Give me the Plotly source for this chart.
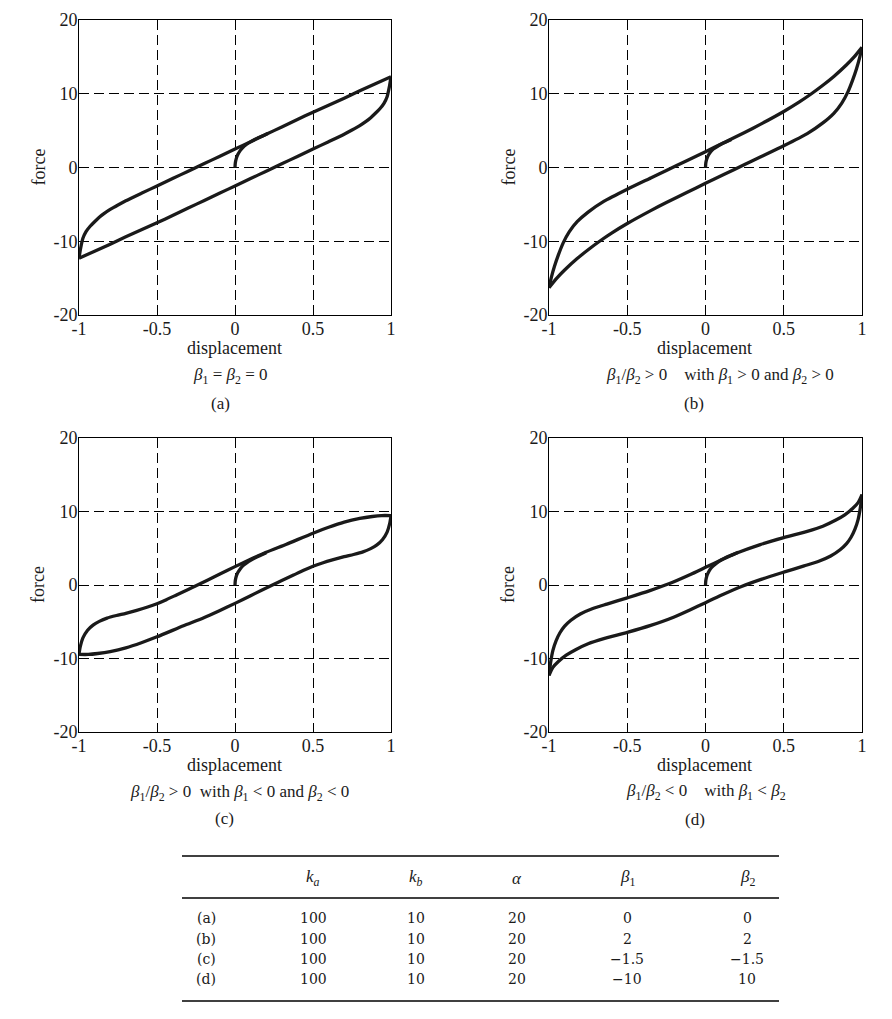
import plotly.graph_objects as go

# ---------------- data ----------------
# panel (a): beta1 = beta2 = 0
a_up_x = [-1.0, -0.99, -0.975, -0.955, -0.93, -0.9, -0.87, -0.84, -0.8, -0.75, -0.7, -0.6, -0.5, -0.4, -0.3, -0.2, -0.1, 0.0, 0.1, 0.2, 0.3, 0.4, 0.5, 0.6, 0.7, 0.8, 0.9, 1.0]
a_up_y = [-12.3, -11.0, -9.6, -8.7, -8.0, -7.35, -6.75, -6.25, -5.68, -5.08, -4.52, -3.5, -2.5, -1.5, -0.5, 0.5, 1.5, 2.5, 3.5, 4.5, 5.5, 6.5, 7.5, 8.45, 9.4, 10.4, 11.35, 12.3]
a_dn_x = [1.0, 0.99, 0.975, 0.955, 0.93, 0.9, 0.87, 0.84, 0.8, 0.75, 0.7, 0.6, 0.5, 0.4, 0.3, 0.2, 0.1, 0.0, -0.1, -0.2, -0.3, -0.4, -0.5, -0.6, -0.7, -0.8, -0.9, -1.0]
a_dn_y = [12.3, 11.0, 9.6, 8.7, 8.0, 7.35, 6.75, 6.25, 5.68, 5.08, 4.52, 3.5, 2.5, 1.5, 0.5, -0.5, -1.5, -2.5, -3.5, -4.5, -5.5, -6.5, -7.5, -8.45, -9.4, -10.4, -11.35, -12.3]
a_init_x = [0.0, 0.002, 0.008, 0.018, 0.032, 0.05, 0.075, 0.105, 0.14, 0.18, 0.21]
a_init_y = [0.0, 0.6, 1.2, 1.75, 2.25, 2.7, 3.15, 3.55, 3.95, 4.3, 4.6]

# panel (b): beta1 = beta2 = 2
b_up_x = [-1.0, -0.985, -0.965, -0.94, -0.91, -0.87, -0.82, -0.75, -0.65, -0.5, -0.35, -0.25, -0.12, 0.0, 0.12, 0.25, 0.35, 0.5, 0.6, 0.67, 0.75, 0.82, 0.9, 0.95, 1.0]
b_up_y = [-16.3, -14.9, -13.4, -11.85, -10.25, -8.7, -7.35, -6.05, -4.6, -2.95, -1.42, -0.4, 0.93, 2.15, 3.38, 4.75, 5.85, 7.6, 8.9, 9.9, 11.15, 12.35, 13.9, 15.0, 16.3]
b_dn_x = [1.0, 0.985, 0.965, 0.94, 0.91, 0.87, 0.82, 0.75, 0.65, 0.5, 0.35, 0.25, 0.12, 0.0, -0.12, -0.25, -0.35, -0.5, -0.6, -0.67, -0.75, -0.82, -0.9, -0.95, -1.0]
b_dn_y = [16.3, 14.9, 13.4, 11.85, 10.25, 8.7, 7.35, 6.05, 4.6, 2.95, 1.42, 0.4, -0.93, -2.15, -3.38, -4.75, -5.85, -7.6, -8.9, -9.9, -11.15, -12.35, -13.9, -15.0, -16.3]
b_init_x = [0.0, 0.002, 0.008, 0.018, 0.032, 0.05, 0.075, 0.1, 0.13, 0.165]
b_init_y = [0.0, 0.6, 1.15, 1.65, 2.1, 2.5, 2.85, 3.15, 3.45, 3.8]

# panel (c): beta1 = beta2 = -1.5
c_up_x = [-1.0, -0.992, -0.975, -0.945, -0.91, -0.87, -0.82, -0.76, -0.7, -0.63, -0.56, -0.5, -0.44, -0.375, -0.3, -0.25, -0.1, 0.0, 0.1, 0.2, 0.33, 0.5, 0.6, 0.7, 0.8, 0.88, 0.94, 1.0]
c_up_y = [-9.4, -8.4, -7.2, -6.15, -5.45, -4.95, -4.5, -4.15, -3.85, -3.45, -3.0, -2.55, -2.0, -1.35, -0.6, -0.1, 1.45, 2.5, 3.5, 4.45, 5.55, 7.05, 7.85, 8.55, 9.05, 9.32, 9.45, 9.45]
c_dn_x = [1.0, 0.992, 0.975, 0.945, 0.91, 0.87, 0.82, 0.76, 0.7, 0.63, 0.56, 0.5, 0.44, 0.375, 0.3, 0.25, 0.1, 0.0, -0.1, -0.2, -0.33, -0.5, -0.6, -0.7, -0.8, -0.88, -0.94, -1.0]
c_dn_y = [9.4, 8.4, 7.2, 6.15, 5.45, 4.95, 4.5, 4.15, 3.85, 3.45, 3.0, 2.55, 2.0, 1.35, 0.6, 0.1, -1.45, -2.5, -3.5, -4.45, -5.55, -7.05, -7.85, -8.55, -9.05, -9.32, -9.45, -9.45]
c_init_x = [0.0, 0.002, 0.008, 0.018, 0.032, 0.05, 0.075, 0.1, 0.13, 0.165, 0.2]
c_init_y = [0.0, 0.6, 1.2, 1.7, 2.15, 2.6, 3.0, 3.35, 3.7, 4.05, 4.4]

# panel (d): beta1 = -10, beta2 = 10
d_up_x = [-1.0, -0.99, -0.975, -0.955, -0.93, -0.9, -0.86, -0.8, -0.72, -0.63, -0.5, -0.36, -0.23, -0.1, 0.0, 0.1, 0.2, 0.35, 0.5, 0.65, 0.75, 0.83, 0.89, 0.94, 0.975, 1.0]
d_up_y = [-12.3, -10.6, -8.9, -7.6, -6.5, -5.6, -4.8, -3.95, -3.2, -2.6, -1.75, -0.8, 0.2, 1.4, 2.4, 3.4, 4.35, 5.5, 6.45, 7.3, 8.0, 8.8, 9.55, 10.4, 11.2, 12.3]
d_dn_x = [1.0, 0.99, 0.975, 0.955, 0.93, 0.9, 0.86, 0.8, 0.72, 0.63, 0.5, 0.36, 0.23, 0.1, 0.0, -0.1, -0.2, -0.35, -0.5, -0.65, -0.75, -0.83, -0.89, -0.94, -0.975, -1.0]
d_dn_y = [12.3, 10.6, 8.9, 7.6, 6.5, 5.6, 4.8, 3.95, 3.2, 2.6, 1.75, 0.8, -0.2, -1.4, -2.4, -3.4, -4.35, -5.5, -6.45, -7.3, -8.0, -8.8, -9.55, -10.4, -11.2, -12.3]
d_init_x = [0.0, 0.002, 0.008, 0.018, 0.032, 0.05, 0.075, 0.1, 0.13, 0.17, 0.21]
d_init_y = [0.0, 0.6, 1.2, 1.7, 2.2, 2.6, 3.05, 3.4, 3.75, 4.1, 4.45]

x_tickvals = [-1, -0.5, 0, 0.5, 1]
x_ticktext = ["-1", "-0.5", "0", "0.5", "1"]
y_tickvals = [-20, -10, 0, 10, 20]
y_ticktext = ["-20", "-10", "0", "10", "20"]

SP = "\u2002\u2002"
captions = [
    "<i>β</i><sub>1</sub> = <i>β</i><sub>2</sub> = 0",
    "<i>β</i><sub>1</sub>/<i>β</i><sub>2</sub> > 0" + SP + "with <i>β</i><sub>1</sub> > 0 and <i>β</i><sub>2</sub> > 0",
    "<i>β</i><sub>1</sub>/<i>β</i><sub>2</sub> > 0\u2002with <i>β</i><sub>1</sub> < 0 and <i>β</i><sub>2</sub> < 0",
    "<i>β</i><sub>1</sub>/<i>β</i><sub>2</sub> < 0" + SP + "with <i>β</i><sub>1</sub> < <i>β</i><sub>2</sub>",
]
panel_labels = ["(a)", "(b)", "(c)", "(d)"]

table_header = ["<i>k</i><sub><i>a</i></sub>", "<i>k</i><sub><i>b</i></sub>", "<i>α</i>",
                "<i>β</i><sub>1</sub>", "<i>β</i><sub>2</sub>"]
table_rows = ["(a)", "(b)", "(c)", "(d)"]
col_ka = ["100", "100", "100", "100"]
col_kb = ["10", "10", "10", "10"]
col_alpha = ["20", "20", "20", "20"]
col_beta1 = ["0", "2", "\u22121.5", "\u221210"]
col_beta2 = ["0", "2", "\u22121.5", "10"]

# ---------------- layout helpers ----------------
PAGE_OFF = 8          # the page body margin offsets the figure
W, H = 892 - 2 * PAGE_OFF, 1019 - 2 * PAGE_OFF
FONT = "Liberation Serif"
TFONT = "DejaVu Serif"
INK = "#1a1a1a"


def px(x):
    return (x - PAGE_OFF) / W


def py(y):
    return 1 - (y - PAGE_OFF) / H


panels = [
    dict(x0=79, x1=391, y0=20, y1=315),
    dict(x0=549, x1=862, y0=20, y1=315),
    dict(x0=79, x1=391, y0=438, y1=732),
    dict(x0=549, x1=862, y0=438, y1=732),
]
series = [
    (a_up_x, a_up_y, a_dn_x, a_dn_y, a_init_x, a_init_y),
    (b_up_x, b_up_y, b_dn_x, b_dn_y, b_init_x, b_init_y),
    (c_up_x, c_up_y, c_dn_x, c_dn_y, c_init_x, c_init_y),
    (d_up_x, d_up_y, d_dn_x, d_dn_y, d_init_x, d_init_y),
]
caption_pos = [(230, 376, 220, 403), (720, 376, 694, 403), (239, 793, 224, 818), (706, 792, 695, 819)]

fig = go.Figure()
layout = dict(
    width=W, height=H, margin=dict(l=0, r=0, t=0, b=0, pad=0, autoexpand=False),
    paper_bgcolor="white", plot_bgcolor="white", showlegend=False,
    font=dict(family=FONT, color=INK, size=16),
)
annotations = []
shapes = []

for i, (p, s) in enumerate(zip(panels, series)):
    n = "" if i == 0 else str(i + 1)
    xa, ya = "x" + n, "y" + n
    ux, uy, dx, dy, ix, iy = s
    for X, Y in ((ux, uy), (dx, dy), (ix, iy)):
        fig.add_trace(go.Scatter(x=X, y=Y, mode="lines", xaxis=xa, yaxis=ya,
                                 line=dict(color=INK, width=3.3, shape="spline", smoothing=0.6),
                                 hoverinfo="skip"))
    axis_common = dict(showline=True, mirror=True, linecolor="black", linewidth=1,
                       showgrid=True, gridcolor="black", gridwidth=1, griddash="10px,5px",
                       zeroline=False, ticks="", automargin=False,
                       tickfont=dict(family=FONT, size=18, color=INK),
                       fixedrange=True)
    layout["xaxis" + n] = dict(axis_common, domain=[px(p["x0"]), px(p["x1"])], range=[-1, 1],
                               tickvals=x_tickvals, ticktext=x_ticktext, anchor=ya,
                               ticklabelstandoff=-3)
    layout["yaxis" + n] = dict(axis_common, domain=[py(p["y1"]), py(p["y0"])], range=[-20, 20],
                               tickvals=y_tickvals, ticktext=y_ticktext, anchor=xa,
                               ticklabelstandoff=-3)
    cx = (p["x0"] + p["x1"]) / 2
    annotations.append(dict(text="displacement", x=px(cx - 1), y=py(p["y1"] + 33), xref="paper", yref="paper",
                            showarrow=False, font=dict(family=FONT, size=18, color=INK),
                            xanchor="center", yanchor="middle"))
    annotations.append(dict(text="force", x=px(p["x0"] - 41), y=py((p["y0"] + p["y1"]) / 2),
                            xref="paper", yref="paper", textangle=-90, showarrow=False,
                            font=dict(family=FONT, size=18, color=INK), xanchor="center", yanchor="middle"))
    cxp, cyp, lxp, lyp = caption_pos[i]
    annotations.append(dict(text=captions[i], x=px(cxp), y=py(cyp), xref="paper", yref="paper",
                            showarrow=False, font=dict(family=FONT, size=17, color=INK),
                            xanchor="center", yanchor="middle"))
    annotations.append(dict(text=panel_labels[i], x=px(lxp), y=py(lyp), xref="paper", yref="paper",
                            showarrow=False, font=dict(family=FONT, size=17, color=INK),
                            xanchor="center", yanchor="middle"))

# ---------------- table ----------------
tbl_x0, tbl_x1 = 182, 779
for yl in (856, 898, 1001):
    shapes.append(dict(type="line", xref="paper", yref="paper", x0=px(tbl_x0), x1=px(tbl_x1),
                       y0=py(yl), y1=py(yl), line=dict(color="black", width=1.3)))
col_x = [313, 416, 517, 627, 747]
for cx, h in zip(col_x, table_header):
    annotations.append(dict(text=h, x=px(cx), y=py(878), xref="paper", yref="paper", showarrow=False,
                            font=dict(family=FONT, size=17, color=INK), xanchor="center", yanchor="middle"))
row_y = [918, 939, 959, 979]
columns = [col_ka, col_kb, col_alpha, col_beta1, col_beta2]
for r, yy in enumerate(row_y):
    annotations.append(dict(text=table_rows[r], x=px(206), y=py(yy), xref="paper", yref="paper",
                            showarrow=False, font=dict(family=TFONT, size=14, color=INK),
                            xanchor="center", yanchor="middle"))
    for cx, col in zip(col_x, columns):
        annotations.append(dict(text=col[r], x=px(cx), y=py(yy), xref="paper", yref="paper",
                                showarrow=False, font=dict(family=TFONT, size=14, color=INK),
                                xanchor="center", yanchor="middle"))

layout["annotations"] = annotations
layout["shapes"] = shapes
fig.update_layout(**layout)
fig.write_html("out.html")
